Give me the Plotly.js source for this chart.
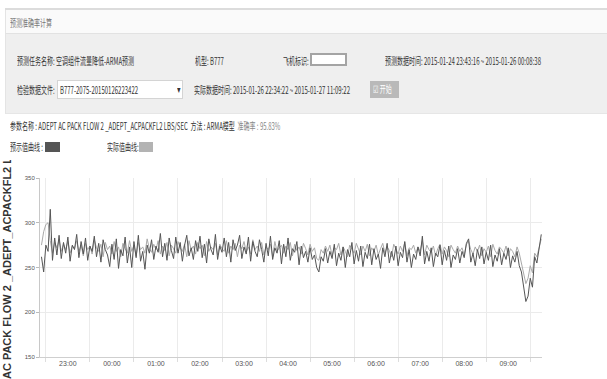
<!DOCTYPE html>
<html>
<head>
<meta charset="utf-8">
<script src="https://cdn.plot.ly/plotly-3.0.1.min.js"></script>
<style>
html,body{margin:0;padding:0;width:607px;height:379px;overflow:hidden;background:#fff;}
.t{position:absolute;white-space:nowrap;font-family:"Noto Sans CJK SC","Noto Sans",sans-serif;font-size:10px;line-height:12px;color:#333;transform:scaleX(0.6);transform-origin:0 50%;}
.box{position:absolute;box-sizing:border-box;}
#chart{position:absolute;left:0;top:160px;width:607px;height:240px;}
</style>
</head>
<body>
<div class="box" style="left:5px;top:8px;width:602px;height:2px;background:#dcdcdc;"></div>
<div class="box" style="left:5px;top:10px;width:602px;height:23px;background:#fafafa;border-left:1px solid #e4e4e4;"></div>
<div class="box" style="left:5px;top:33px;width:602px;height:81px;background:#efefef;border-top:1px solid #e2e2e2;border-bottom:1px solid #e6e6e6;border-left:1px solid #e4e4e4;"></div>
<div class="t" style="left:10px;top:17px;color:#777;">预测准确率计算</div>

<div class="t" style="left:17px;top:55px;">预测任务名称: 空调组件流量降低-ARMA预测</div>
<div class="t" style="left:195px;top:55px;">机型: B777</div>
<div class="t" style="left:283px;top:55px;">飞机标识:</div>
<div class="box" style="left:310px;top:53px;width:37px;height:13px;background:#fff;border:2px solid #a4a4a4;"></div>
<div class="t" style="left:385px;top:55px;">预测数据时间: 2015-01-24 23:43:16 ~ 2015-01-26 00:08:38</div>

<div class="t" style="left:17px;top:84px;">检验数据文件:</div>
<div class="box" style="left:57px;top:80px;width:126px;height:19px;background:#fff;border:1px solid #d4d4d4;"></div>
<div class="t" style="left:60px;top:84px;">B777-2075-20150126223422</div>
<div class="t" style="left:177px;top:84px;font-size:6px;">▼</div>
<div class="t" style="left:194px;top:84px;">实际数据时间: 2015-01-26 22:34:22 ~ 2015-01-27 11:09:22</div>
<div class="box" style="left:370px;top:81px;width:29px;height:17px;background:#b9b9b9;"></div>
<div class="t" style="left:373px;top:83px;color:#fff;">☑ 开始</div>

<div class="t" style="left:10px;top:120px;">参数名称 : ADEPT AC PACK FLOW 2 _ADEPT_ACPACKFL2 LBS/SEC &nbsp;方法 : ARMA模型 &nbsp;<span style="color:#888">准确率 : 95.83%</span></div>
<div class="t" style="left:10px;top:141px;">预示值曲线 :</div>
<div class="box" style="left:45px;top:142px;width:15px;height:10px;background:#555;"></div>
<div class="t" style="left:107px;top:141px;">实际值曲线:</div>
<div class="box" style="left:139px;top:142px;width:14px;height:10px;background:#b3b3b3;"></div>

<div id="chart"></div>
<script>
// time axis: start and sampling step (minutes)
var startTime = "2015-01-26T22:24:00";
var stepMinutes = 3;

// predicted values (dark line)
var predicted = [
262,245,275,268,315,258,283,264,286,260,
278,266,284,257,275,270,287,261,279,265,
283,258,274,268,285,262,277,256,281,270,
264,251,276,259,282,249,270,263,284,255,
273,250,279,261,286,257,268,248,275,266,
281,259,274,267,288,262,277,258,283,269,
260,284,266,278,257,275,286,263,272,259,
280,268,285,261,276,255,282,270,264,287,
259,274,267,283,262,278,256,281,269,275,
286,260,273,265,284,257,279,268,262,281,
270,256,277,263,285,259,272,266,280,254,
276,262,283,258,271,267,279,253,274,261,
268,256,272,259,264,250,245,262,257,271,
255,268,260,276,252,266,258,273,250,270,
262,278,254,269,257,274,251,267,260,276,
253,271,259,265,249,272,262,277,255,268,
258,274,252,267,261,279,256,270,250,265,
259,273,263,285,254,268,257,272,251,266,
262,275,253,269,258,274,250,264,259,271,
255,268,261,277,282,256,266,252,270,260,
273,254,267,258,275,251,264,257,271,253,
266,259,272,250,263,256,268,252,245,230,
212,218,238,228,262,255,270,287];

// actual values (light line)
var actual = [
275,290,298,300,280,266,278,272,281,268,
276,270,279,266,274,271,280,268,275,263,
277,270,274,265,281,272,268,276,262,278,
270,274,265,279,268,273,262,277,271,266,
280,268,275,263,278,270,273,266,282,271,
267,276,270,280,265,274,269,278,263,275,
271,266,279,272,268,276,262,280,270,274,
265,278,271,275,263,279,268,273,270,277,
264,276,271,268,280,266,274,270,277,262,
275,271,279,267,273,265,281,270,274,268,
278,264,273,270,276,262,279,268,272,275,
266,274,270,278,263,276,269,273,265,277,
271,264,276,268,272,260,258,270,266,274,
268,275,263,272,270,277,264,273,268,262,
275,270,266,277,271,264,274,268,276,263,
272,268,275,264,271,277,266,273,269,262,
276,270,265,274,268,278,263,272,270,275,
266,273,268,280,264,275,270,267,274,263,
271,276,265,273,269,262,275,270,266,274,
268,272,264,276,279,270,265,273,268,275,
263,271,267,274,262,276,269,265,273,270,
266,274,263,271,268,262,273,266,255,242,
232,238,252,244,266,262,274,282];

var yTicks = [150,200,250,300,350];
var yTickText = ["150","200","250","300","350"];
var axisTitle = "ADEPT AC PACK FLOW 2 _ADEPT_ACPACKFL2 LBS/SEC";

function pad(n){return (n<10?"0":"")+n;}
var t0 = new Date(startTime.replace("T"," ").replace(/-/g,"/")).getTime();
var times = [];
for (var i=0;i<predicted.length;i++){
  var d = new Date(t0 + i*stepMinutes*60000);
  times.push(d.getFullYear()+"-"+pad(d.getMonth()+1)+"-"+pad(d.getDate())+" "+pad(d.getHours())+":"+pad(d.getMinutes())+":00");
}

var traces = [
  {x: times, y: actual, type:"scatter", mode:"lines", name:"实际值曲线", line:{color:"#a9a9a9", width:1}, hoverinfo:"skip"},
  {x: times, y: predicted, type:"scatter", mode:"lines", name:"预示值曲线", line:{color:"#555555", width:1}, hoverinfo:"skip"}
];

var layout = {
  width: 607, height: 240,
  margin: {l:40, r:65, t:18, b:43},
  paper_bgcolor: "rgba(0,0,0,0)",
  plot_bgcolor: "#ffffff",
  showlegend: false,
  xaxis: {
    type: "date",
    range: ["2015-01-26 22:22:00", "2015-01-27 09:46:00"],
    tick0: "2015-01-26 23:00:00",
    dtick: 3600000,
    tickformat: "%H:%M",
    showgrid: false,
    ticks: "",
    showline: true, linecolor: "#cfcfcf", linewidth: 1,
    tickfont: {family: "Liberation Sans Narrow, Arial Narrow, sans-serif", size: 7, color: "#555"},
    minor: {tick0: "2015-01-26 22:30:00", dtick: 3600000, showgrid: true, gridcolor: "#ebebeb", gridwidth: 1, ticks: "outside", ticklen: 4, tickcolor: "#dddddd"},
    zeroline: false
  },
  yaxis: {
    range: [150, 350],
    tickvals: yTicks, ticktext: yTickText,
    showgrid: true, gridcolor: "#ebebeb", gridwidth: 1,
    showline: true, linecolor: "#c8c8c8", linewidth: 1,
    ticks: "outside", ticklen: 3, tickcolor: "#bbbbbb",
    tickfont: {family: "Liberation Sans Narrow, Arial Narrow, sans-serif", size: 6, color: "#555"},
    zeroline: false,
    title: {text: "<b>"+axisTitle+"</b>", standoff: 10, font: {family: "Liberation Sans, Arial, sans-serif", size: 11, color: "#333"}}
  }
};

Plotly.newPlot("chart", traces, layout, {staticPlot: true, displayModeBar: false});
</script>
</body>
</html>
